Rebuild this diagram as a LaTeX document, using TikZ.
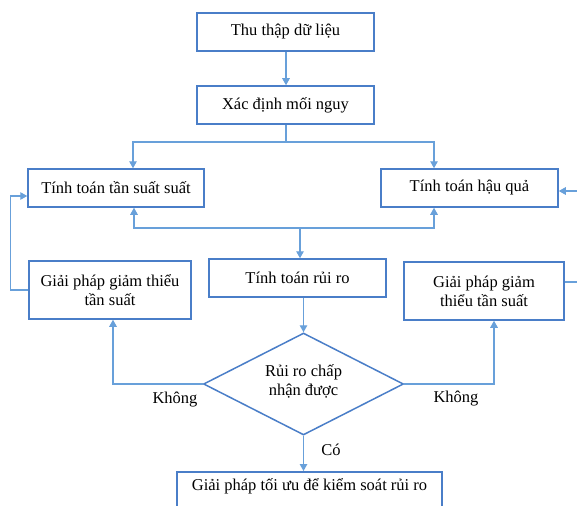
\documentclass[tikz,border=0pt]{standalone}
\usepackage{fontspec}
\setmainfont{Liberation Serif}
\usetikzlibrary{arrows.meta,shapes.geometric}
\definecolor{boxblue}{RGB}{74,126,200}
\definecolor{lineblue}{RGB}{104,160,218}
\begin{document}
\begin{tikzpicture}[x=1pt,y=-1pt,
  font=\fontsize{16.5}{19}\selectfont,
  stepbox/.style={draw=boxblue,line width=1.5pt,rectangle,inner sep=0pt,align=center,fill=white},
  conn/.style={draw=lineblue,line width=1.2pt},
  arr/.style={conn,-{Triangle[length=7pt,width=7.5pt]}},
  lbl/.style={inner sep=0pt}]
\clip (0,0) rectangle (577,505);
\fill[white] (0,0) rectangle (577,505);

\node[stepbox,minimum width=177pt,minimum height=38pt] (b1) at (285.5,32) {Thu thập dữ liệu};
\node[stepbox,minimum width=177pt,minimum height=38pt] (b2) at (285.5,105) {Xác định mối nguy};
\node[stepbox,minimum width=176pt,minimum height=38pt] (b3) at (116,188) {Tính toán tần suất suất};
\node[stepbox,minimum width=177pt,minimum height=38pt] (b4) at (469.5,188) {Tính toán hậu quả};
\node[stepbox,minimum width=177pt,minimum height=38pt] (b5) at (297.5,278) {Tính toán rủi ro};
\node[stepbox,minimum width=162pt,minimum height=58pt] (b6) at (110,290) {Giải pháp giảm thiểu\\tần suất};
\node[stepbox,minimum width=160pt,minimum height=58pt] (b7) at (484,291) {Giải pháp giảm\\thiểu tần suất};
\node[draw=boxblue,line width=1.5pt,diamond,inner sep=0pt,minimum width=200pt,minimum height=102pt] (dia) at (303.5,384) {};
\node[lbl,align=center] (diatext) at (303.5,381) {Rủi ro chấp\\nhận được};
\node[stepbox,anchor=north,minimum width=265pt,text height=17pt,text depth=21pt,inner ysep=2pt] (fin) at (309.5,471) {Giải pháp tối ưu để kiểm soát rủi ro};

\coordinate (j1) at (286,142);
\coordinate (j2) at (300,228);

% top chain
\draw[arr] ([xshift=0.5pt]b1.south) -- ([xshift=0.5pt]b2.north);
\draw[conn] (b2.south -| j1) -- (j1);
\draw[arr] (j1) -| ([xshift=17pt]b3.north);
\draw[arr] (j1) -| ([xshift=-35.5pt]b4.north);

% middle junction
\draw[arr] (j2) -| ([xshift=18pt]b3.south);
\draw[arr] (j2) -| ([xshift=-35.5pt]b4.south);
\draw[arr] (j2) -- (j2 |- b5.north);

% to decision
\draw[arr] (dia.north |- b5.south) -- (dia.north);
\draw[arr] (dia.west) -| ([xshift=3pt]b6.south);
\draw[arr] (dia.east) -| ([xshift=10pt]b7.south);
\draw[arr] (dia.south) -- (dia.south |- fin.north);

% feedback loops
\draw[arr] (b6.west) -- ++(-18,0) |- ([yshift=-8pt]b3.west);
\draw[arr] ([yshift=9pt]b7.east) -- ++(20,0) |- ([yshift=-3pt]b4.east);

% labels
\node[lbl] (l1) at (175,400) {Không};
\node[lbl] (l2) at (456,399) {Không};
\node[lbl] (l3) at (331,450) {Có};
\end{tikzpicture}
\end{document}
